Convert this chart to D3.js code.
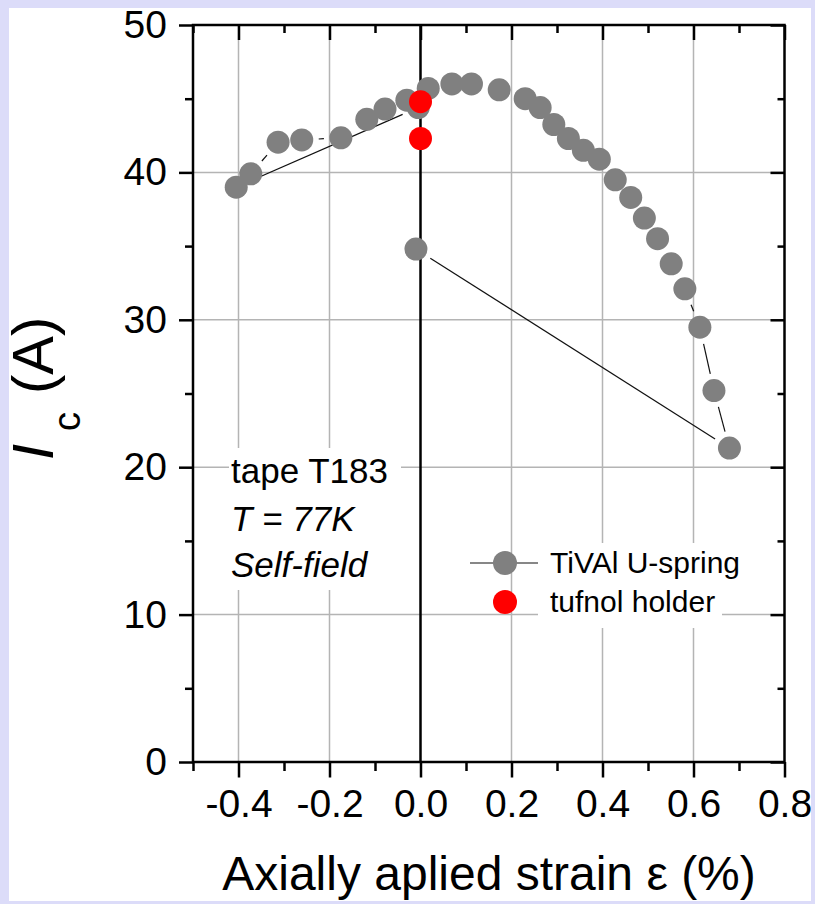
<!DOCTYPE html>
<html>
<head>
<meta charset="utf-8">
<script src="https://cdn.jsdelivr.net/npm/d3@7"></script>
<style>
  html, body { margin: 0; padding: 0; background: #dcdcf9; }
  svg { display: block; font-family: "Liberation Sans", Arial, sans-serif; }
</style>
</head>
<body>
<svg id="chart" width="815" height="904"></svg>
<script>
// TiVAl U-spring measurement sequence (strain %, critical current A)
const springStrain = [-0.03, -0.078, -0.118, -0.175, -0.261, -0.313, -0.373, -0.405,
  -0.005, 0.017, 0.069, 0.112, 0.173, 0.230, 0.263, 0.293, 0.325, 0.358, 0.393,
  0.428, 0.462, 0.492, 0.521, 0.551, 0.581, 0.614, 0.645, 0.679, -0.01];
const springIc = [44.9, 44.3, 43.6, 42.35, 42.2, 42.05, 39.9, 39.0,
  44.4, 45.7, 46.0, 46.0, 45.6, 45.0, 44.4, 43.25, 42.3, 41.5, 40.9,
  39.5, 38.3, 36.9, 35.5, 33.8, 32.1, 29.5, 25.2, 21.3, 34.8];

// tufnol holder reference points
const holderStrain = [0.0, 0.0];
const holderIc = [44.8, 42.3];

const xTicks = [-0.4, -0.2, 0.0, 0.2, 0.4, 0.6, 0.8];
const xTickLabels = ["-0.4", "-0.2", "0.0", "0.2", "0.4", "0.6", "0.8"];
const xMinorTicks = [-0.5, -0.3, -0.1, 0.1, 0.3, 0.5, 0.7];
const yTicks = [0, 10, 20, 30, 40, 50];
const yTickLabels = ["0", "10", "20", "30", "40", "50"];
const yMinorTicks = [5, 15, 25, 35, 45];

const annotation = ["tape T183", "T = 77K", "Self-field"];
const legendLabels = ["TiVAl U-spring", "tufnol holder"];

(function draw() {
  const svg = d3.select("#chart");
  const W = 815, H = 904;

  const x = d3.scaleLinear().domain([-0.5, 0.8]).range([193, 784.5]);
  const y = d3.scaleLinear().domain([0, 50]).range([762, 25]);

  // page frame
  svg.append("rect").attr("width", W).attr("height", H).attr("fill", "#dcdcf9");
  svg.append("defs").append("clipPath").attr("id", "page")
    .append("rect").attr("x", 9).attr("y", 8).attr("width", 802).attr("height", 893);
  const g = svg.append("g").attr("clip-path", "url(#page)");
  g.append("rect").attr("x", 9).attr("y", 8).attr("width", 802).attr("height", 893).attr("fill", "#fff");

  // grid
  const grid = g.append("g").attr("stroke", "#b4b4b4").attr("stroke-width", 1.5);
  grid.selectAll("line.vx").data(xTicks.filter(d => d !== 0 && d < 0.8)).join("line")
    .attr("class", "vx")
    .attr("x1", d => x(d)).attr("x2", d => x(d)).attr("y1", y(50)).attr("y2", y(0));
  grid.selectAll("line.hy").data(yTicks.filter(d => d > 0 && d < 50)).join("line")
    .attr("class", "hy")
    .attr("y1", d => y(d)).attr("y2", d => y(d)).attr("x1", x(-0.5)).attr("x2", x(0.8));

  // white backing behind text blocks
  g.append("rect").attr("x", 229).attr("y", 448).attr("width", 172).attr("height", 142).attr("fill", "#fff");
  g.append("rect").attr("x", 538).attr("y", 543).attr("width", 184).attr("height", 85).attr("fill", "#fff");

  // zero-strain line
  g.append("line").attr("x1", x(0)).attr("x2", x(0)).attr("y1", y(50)).attr("y2", y(0))
    .attr("stroke", "#000").attr("stroke-width", 2.5);

  // connecting line segments with gap around symbols
  const gap = 17;
  const pts = springStrain.map((s, i) => [x(s), y(springIc[i])]);
  const segs = [];
  for (let i = 0; i < pts.length - 1; i++) {
    const [x1, y1] = pts[i], [x2, y2] = pts[i + 1];
    const len = Math.hypot(x2 - x1, y2 - y1);
    if (len > 2 * gap) {
      const ux = (x2 - x1) / len, uy = (y2 - y1) / len;
      segs.push([x1 + ux * gap, y1 + uy * gap, x2 - ux * gap, y2 - uy * gap]);
    }
  }
  g.append("g").selectAll("line").data(segs).join("line")
    .attr("x1", d => d[0]).attr("y1", d => d[1]).attr("x2", d => d[2]).attr("y2", d => d[3])
    .attr("stroke", "#111").attr("stroke-width", 1.2);

  const r = 11.5;
  g.append("g").selectAll("circle").data(springStrain.map((s, i) => [s, springIc[i]])).join("circle")
    .attr("cx", d => x(d[0])).attr("cy", d => y(d[1])).attr("r", r).attr("fill", "#808080");
  g.append("g").selectAll("circle").data(holderStrain.map((s, i) => [s, holderIc[i]])).join("circle")
    .attr("cx", d => x(d[0])).attr("cy", d => y(d[1])).attr("r", r).attr("fill", "#ff0000");

  // axes
  function styleAxis(sel, fs) {
    sel.select(".domain").remove();
    sel.selectAll(".tick line").attr("stroke", "#000").attr("stroke-width", 2.5);
    sel.selectAll(".tick text").attr("fill", "#000").attr("font-size", fs)
      .attr("font-family", "'Liberation Sans', Arial, sans-serif");
  }
  const fsTick = 39;
  const axBottom = g.append("g").attr("transform", `translate(0,${y(0)})`)
    .call(d3.axisBottom(x).tickValues(xTicks).tickFormat((d, i) => xTickLabels[i]).tickSize(15.5).tickPadding(12));
  styleAxis(axBottom, fsTick);
  const axBottomMinor = g.append("g").attr("transform", `translate(0,${y(0)})`)
    .call(d3.axisBottom(x).tickValues(xMinorTicks).tickFormat("").tickSize(9));
  styleAxis(axBottomMinor, fsTick);
  const axTop = g.append("g").attr("transform", `translate(0,${y(50)})`)
    .call(d3.axisBottom(x).tickValues(xTicks).tickFormat("").tickSize(15));
  styleAxis(axTop, fsTick);
  const axTopMinor = g.append("g").attr("transform", `translate(0,${y(50)})`)
    .call(d3.axisBottom(x).tickValues(xMinorTicks).tickFormat("").tickSize(8));
  styleAxis(axTopMinor, fsTick);

  const axLeft = g.append("g").attr("transform", `translate(${x(-0.5)},0)`)
    .call(d3.axisLeft(y).tickValues(yTicks).tickFormat((d, i) => yTickLabels[i]).tickSize(14).tickPadding(12));
  styleAxis(axLeft, fsTick);
  const axLeftMinor = g.append("g").attr("transform", `translate(${x(-0.5)},0)`)
    .call(d3.axisLeft(y).tickValues(yMinorTicks).tickFormat("").tickSize(8));
  styleAxis(axLeftMinor, fsTick);
  const axRight = g.append("g").attr("transform", `translate(${x(0.8)},0)`)
    .call(d3.axisLeft(y).tickValues(yTicks).tickFormat("").tickSize(14));
  styleAxis(axRight, fsTick);
  const axRightMinor = g.append("g").attr("transform", `translate(${x(0.8)},0)`)
    .call(d3.axisLeft(y).tickValues(yMinorTicks).tickFormat("").tickSize(7));
  styleAxis(axRightMinor, fsTick);

  // frame lines
  g.append("rect").attr("x", x(-0.5)).attr("y", y(50))
    .attr("width", x(0.8) - x(-0.5)).attr("height", y(0) - y(50))
    .attr("fill", "none").attr("stroke", "#000").attr("stroke-width", 2.5);

  // axis titles
  g.append("text").attr("x", 489).attr("y", 890).attr("text-anchor", "middle")
    .attr("font-size", 48).attr("fill", "#000").text("Axially aplied strain \u03b5 (%)");

  // rotated y title: tspan x positions are negative screen-y
  const yt = g.append("text").attr("transform", "translate(53,0) rotate(-90)")
    .attr("text-anchor", "start").attr("font-size", 58).attr("fill", "#000");
  yt.append("tspan").attr("x", -460).attr("font-style", "italic").text("I");
  yt.append("tspan").attr("x", -431).attr("font-size", 38).attr("dy", 27).text("c");
  yt.append("tspan").attr("x", -394).attr("dy", -27).text("(A)");

  // annotation block
  const ann = g.append("g").attr("font-size", 35).attr("fill", "#000");
  ann.append("text").attr("x", 231).attr("y", 483).text(annotation[0]);
  ann.append("text").attr("x", 231).attr("y", 531).attr("font-style", "italic").text(annotation[1]);
  ann.append("text").attr("x", 231).attr("y", 577).attr("font-style", "italic").text(annotation[2]);

  // legend
  const lg = g.append("g");
  lg.append("line").attr("x1", 470).attr("x2", 538).attr("y1", 563).attr("y2", 563)
    .attr("stroke", "#111").attr("stroke-width", 1.2);
  lg.append("circle").attr("cx", 505).attr("cy", 563).attr("r", 12).attr("fill", "#808080");
  lg.append("circle").attr("cx", 505).attr("cy", 602).attr("r", 12).attr("fill", "#ff0000");
  lg.append("text").attr("x", 550).attr("y", 573).attr("font-size", 30).attr("fill", "#000").text(legendLabels[0]);
  lg.append("text").attr("x", 550).attr("y", 612).attr("font-size", 30).attr("fill", "#000").text(legendLabels[1]);
})();
</script>
</body>
</html>
